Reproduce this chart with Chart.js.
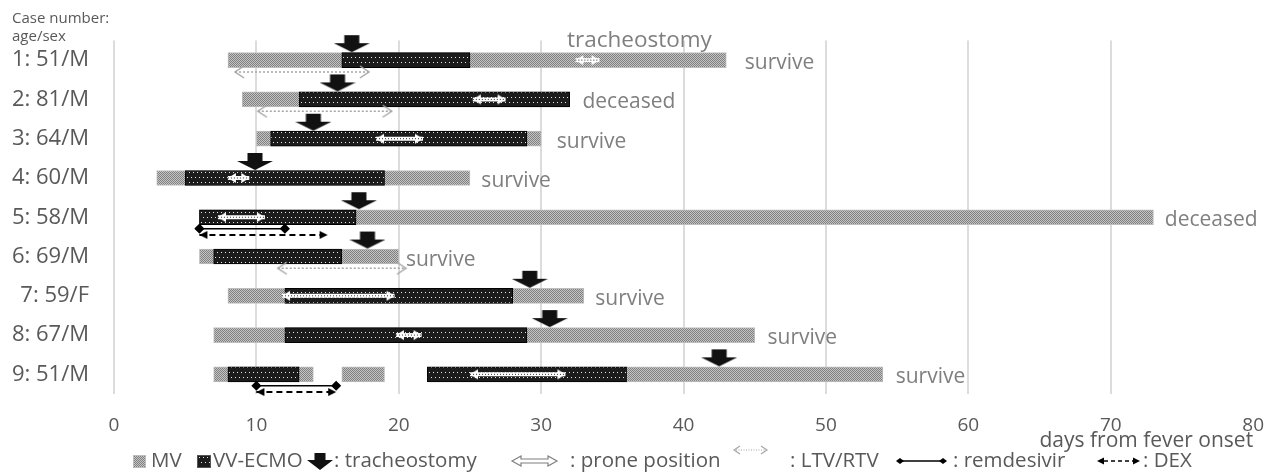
<!DOCTYPE html>
<html>
<head>
<meta charset="utf-8">
<script src="https://cdn.jsdelivr.net/npm/chart.js@4.4.0/dist/chart.umd.min.js"></script>
<style>
  html, body { margin: 0; background: #fff; }
</style>
</head>
<body>
<canvas id="caseChart" width="1284" height="474"></canvas>
<script>
// case rows (top to bottom)
const cases = ['1: 51/M', '2: 81/M', '3: 64/M', '4: 60/M', '5: 58/M', '6: 69/M', '7: 59/F', '8: 67/M', '9: 51/M'];
// days from fever onset, [start, end]
const mvDays = [[8, 43], [9, 32], [10, 30], [3, 25], [6, 73], [6, 20], [8, 33], [7, 45], [7, 14]];
const mvDays2 = [null, null, null, null, null, null, null, null, [16, 19]];
const mvDays3 = [null, null, null, null, null, null, null, null, [36, 54]];
const ecmoDays = [[16, 25], [13, 32], [11, 29], [5, 19], [6, 17], [7, 16], [12, 28], [12, 29], [8, 13]];
const ecmoDays2 = [null, null, null, null, null, null, null, null, [22, 36]];
const tracheostomyDay = [16.7, 15.7, 14, 9.9, 17.2, 17.8, 29.2, 30.6, 42.5];
const proneDays = [[32.4, 34.1], [25.2, 27.5], [18.4, 21.7], [8, 9.5], [7.3, 10.6], null, [11.8, 19.7], [19.8, 21.6], [25, 31.7]];
const ltvDays = [[8.5, 17.9], [10.1, 19.5], null, null, null, [11.5, 20.5], null, null, null];
const remdesivirDays = [null, null, null, null, [6, 12], null, null, null, [10, 15.6]];
const dexDays = [null, null, null, null, [6, 15], null, null, null, [10, 15.6]];
const outcome = ['survive', 'deceased', 'survive', 'survive', 'deceased', 'survive', 'survive', 'survive', 'survive'];
const outcomeAt = [44.3, 32.9, 31.1, 25.8, 73.8, 20.5, 33.8, 45.9, 54.9];
const strayLabel = 'tracheostomy';
const strayAt = 36.9;
const xTicks = [0, 10, 20, 30, 40, 50, 60, 70, 80];

const FONT = '"Open Sans", sans-serif';
const TEXT = '#595959';
const LABEL = '#7f7f7f';

function makePattern(w, h, bg, dots, dot) {
	const c = document.createElement('canvas');
	c.width = w; c.height = h;
	const g = c.getContext('2d');
	g.fillStyle = bg;
	g.fillRect(0, 0, w, h);
	g.fillStyle = dot;
	dots.forEach(function (p) { g.fillRect(p[0], p[1], 1, 1); });
	return g.createPattern(c, 'repeat');
}
const mvFill = makePattern(2, 2, '#c4c4c4', [[0, 0], [1, 1]], '#808080');
const ecmoFill = makePattern(8, 10, '#1c1c1c', [[1, 2], [5, 2], [3, 7], [7, 7]], '#e6e6e6');

// tracheostomy marker, image centre = row centre, arrow sits above the bar
function arrowImage() {
	const c = document.createElement('canvas');
	c.width = 36; c.height = 52;
	const g = c.getContext('2d');
	g.fillStyle = '#111';
	g.fillRect(10.5, 1, 15, 9);
	g.beginPath();
	g.moveTo(0, 9); g.lineTo(36, 9); g.lineTo(18, 18);
	g.closePath(); g.fill();
	return c;
}

// arrow heads, tip in the image centre
function headImage(kind, flip) {
	const c = document.createElement('canvas');
	c.width = 24; c.height = 16;
	const g = c.getContext('2d');
	g.translate(12, 8);
	if (flip) g.scale(-1, 1);
	if (kind === 'prone') {
		g.fillStyle = '#fff';
		g.beginPath(); g.moveTo(0, 0); g.lineTo(-8, -5); g.lineTo(-8, 5); g.closePath(); g.fill();
	} else if (kind === 'ltv') {
		g.strokeStyle = '#a6a6a6'; g.lineWidth = 1.5;
		g.beginPath(); g.moveTo(-9, -6); g.lineTo(0, 0); g.lineTo(-9, 6); g.stroke();
	} else {
		g.fillStyle = '#000';
		g.beginPath(); g.moveTo(0, 0); g.lineTo(-8, -4); g.lineTo(-8, 4); g.closePath(); g.fill();
	}
	return c;
}

function barSet(label, data, fill, border, order) {
	return {
		type: 'bar', label: label, data: data,
		backgroundColor: fill, borderColor: border, borderWidth: 1, borderSkipped: false,
		barThickness: 15, grouped: false, order: order, xAxisID: 'x', yAxisID: 'y'
	};
}

function rangeSets(ranges, off, style) {
	return ranges.map(function (r, i) {
		if (!r) return null;
		return Object.assign({
			type: 'line', indexAxis: 'x', xAxisID: 'x', yAxisID: 'yv', clip: false, order: 1,
			fill: false, tension: 0, pointRadius: 5,
			data: [{ x: r[0], y: i + 1 + off }, { x: r[1], y: i + 1 + off }]
		}, style);
	}).filter(Boolean);
}

let datasets = [
	barSet('MV', mvDays, mvFill, '#bdbdbd', 6),
	barSet('MV', mvDays2, mvFill, '#bdbdbd', 6),
	barSet('MV', mvDays3, mvFill, '#bdbdbd', 6),
	barSet('VV-ECMO', ecmoDays, ecmoFill, '#000', 5),
	barSet('VV-ECMO', ecmoDays2, ecmoFill, '#000', 5)
];
datasets = datasets.concat(
	rangeSets(proneDays, 0, {
		borderColor: '#fff', borderWidth: 4,
		pointStyle: [headImage('prone', true), headImage('prone', false)]
	}),
	rangeSets(proneDays, 0, {
		borderColor: '#333', borderWidth: 1, borderDash: [1, 2], pointRadius: 0, order: 0
	}),
	rangeSets(ltvDays, 0.3, {
		borderColor: '#a6a6a6', borderWidth: 1.5, borderDash: [2, 2],
		pointStyle: [headImage('ltv', true), headImage('ltv', false)]
	}),
	rangeSets(remdesivirDays, 0.29, {
		borderColor: '#000', borderWidth: 1.5, pointStyle: 'rectRot', pointRadius: 4,
		pointBackgroundColor: '#000', pointBorderColor: '#000'
	}),
	rangeSets(dexDays, 0.45, {
		borderColor: '#000', borderWidth: 2, borderDash: [6, 4],
		pointStyle: [headImage('dex', true), headImage('dex', false)]
	})
);
datasets.push({
	type: 'line', label: 'tracheostomy', indexAxis: 'x', xAxisID: 'x', yAxisID: 'yv',
	showLine: false, clip: false, order: 0, pointRadius: 5,
	pointStyle: arrowImage(),
	data: tracheostomyDay.map(function (d, i) { return { x: d, y: i + 1 }; })
});

// outcome labels next to the bars
const annotate = {
	id: 'annotate',
	afterDatasetsDraw(chart) {
		const ctx = chart.ctx, x = chart.scales.x, yv = chart.scales.yv;
		ctx.save();
		ctx.fillStyle = LABEL;
		ctx.textBaseline = 'middle';
		ctx.textAlign = 'left';
		ctx.font = '21px ' + FONT;
		outcome.forEach(function (t, i) {
			ctx.fillText(t, x.getPixelForValue(outcomeAt[i]), yv.getPixelForValue(i + 1) + 3);
		});
		ctx.font = '22.5px ' + FONT;
		ctx.textAlign = 'center';
		ctx.fillText(strayLabel, x.getPixelForValue(strayAt), yv.getPixelForValue(1) - 20);
		ctx.restore();
	}
};

// legend row under the axis
const legendRow = {
	id: 'legendRow',
	afterDraw(chart) {
		const g = chart.ctx;
		const y = 461;
		g.save();
		g.font = '20.5px ' + FONT;
		g.fillStyle = TEXT;
		g.textBaseline = 'middle';
		g.textAlign = 'left';

		// MV
		g.fillStyle = mvFill; g.fillRect(133, 455, 13, 13);
		g.strokeStyle = '#bdbdbd'; g.lineWidth = 1; g.strokeRect(133.5, 455.5, 12, 12);
		g.fillStyle = TEXT; g.fillText('MV', 151, y);
		// VV-ECMO
		g.fillStyle = ecmoFill; g.fillRect(197, 455, 14, 13);
		g.strokeStyle = '#555'; g.strokeRect(197.5, 455.5, 13, 12);
		g.fillStyle = TEXT; g.fillText('VV-ECMO', 213, y);
		// tracheostomy
		g.fillStyle = '#111';
		g.fillRect(314.5, 453, 11, 8);
		g.beginPath(); g.moveTo(307, 460); g.lineTo(333, 460); g.lineTo(320, 470); g.closePath(); g.fill();
		g.fillStyle = TEXT; g.fillText(': tracheostomy', 334, y);
		// prone position
		g.beginPath();
		g.moveTo(512, y); g.lineTo(521, y - 5); g.lineTo(521, y - 2); g.lineTo(548, y - 2); g.lineTo(548, y - 5);
		g.lineTo(557, y); g.lineTo(548, y + 5); g.lineTo(548, y + 2); g.lineTo(521, y + 2); g.lineTo(521, y + 5);
		g.closePath();
		g.fillStyle = '#fff'; g.fill();
		g.strokeStyle = '#7f7f7f'; g.lineWidth = 1.2; g.stroke();
		g.fillStyle = TEXT; g.fillText(': prone position', 570, y);
		// LTV/RTV
		g.strokeStyle = '#a6a6a6'; g.lineWidth = 1.2;
		g.beginPath(); g.moveTo(740, 446); g.lineTo(734, 450); g.lineTo(740, 454); g.stroke();
		g.beginPath(); g.moveTo(761, 446); g.lineTo(767, 450); g.lineTo(761, 454); g.stroke();
		g.setLineDash([1, 1.5]);
		g.beginPath(); g.moveTo(736, 450); g.lineTo(765, 450); g.stroke();
		g.setLineDash([]);
		g.fillStyle = TEXT; g.fillText(': LTV/RTV', 790, y);
		// remdesivir
		g.strokeStyle = '#000'; g.lineWidth = 1.5;
		g.beginPath(); g.moveTo(900, y); g.lineTo(943, y); g.stroke();
		g.fillStyle = '#000';
		[900, 943].forEach(function (cx) {
			g.beginPath(); g.moveTo(cx - 4, y); g.lineTo(cx, y - 3); g.lineTo(cx + 4, y); g.lineTo(cx, y + 3); g.closePath(); g.fill();
		});
		g.fillStyle = TEXT; g.fillText(': remdesivir', 953, y);
		// DEX
		g.fillStyle = '#000';
		g.beginPath(); g.moveTo(1097, y); g.lineTo(1104, y - 3.5); g.lineTo(1104, y + 3.5); g.closePath(); g.fill();
		g.beginPath(); g.moveTo(1140, y); g.lineTo(1133, y - 3.5); g.lineTo(1133, y + 3.5); g.closePath(); g.fill();
		g.strokeStyle = '#000'; g.lineWidth = 1.5; g.setLineDash([4, 3]);
		g.beginPath(); g.moveTo(1104, y); g.lineTo(1133, y); g.stroke();
		g.setLineDash([]);
		g.fillStyle = TEXT; g.fillText(': DEX', 1143, y);
		g.restore();
	}
};

Chart.defaults.font.family = FONT;
Chart.defaults.color = TEXT;

let chart = new Chart('caseChart', {
	type: 'bar',
	data: { labels: cases, datasets: datasets },
	options: {
		indexAxis: 'y',
		responsive: false,
		animation: false,
		events: [],
		layout: { padding: { left: 12, right: 27, top: 0, bottom: 20 } },
		plugins: {
			legend: { display: false },
			tooltip: { enabled: false },
			title: {
				display: true, align: 'start',
				text: ['Case number:', 'age/sex'],
				color: TEXT,
				font: { size: 15, weight: 'normal', lineHeight: 1.25 },
				padding: { top: 9, bottom: -6 }
			}
		},
		scales: {
			x: {
				type: 'linear', position: 'bottom', min: 0, max: 80, offset: false,
				afterBuildTicks: function (s) { s.ticks = xTicks.map(function (v) { return { value: v }; }); },
				ticks: { color: TEXT, font: { size: 19 }, padding: 20, maxRotation: 0 },
				grid: {
					drawTicks: false, lineWidth: 2,
					color: function (c) { return c.tick && c.tick.value === 80 ? 'rgba(0,0,0,0)' : '#dcdcdc'; }
				},
				border: { display: false },
				title: {
					display: true, align: 'end', text: 'days from fever onset',
					color: TEXT, font: { size: 21 }, padding: { top: -28, bottom: 0 }
				}
			},
			y: {
				type: 'category', position: 'left', labels: cases, offset: true,
				afterFit: function (s) { s.width = 102; },
				ticks: { color: TEXT, font: { size: 22 }, padding: 25 },
				grid: { display: false, drawTicks: false },
				border: { display: false }
			},
			yv: {
				type: 'linear', axis: 'y', position: 'left', offset: false,
				min: 0.5, max: 9.5, reverse: true,
				afterFit: function (s) { s.width = 0; },
				ticks: { display: false },
				grid: { display: false, drawTicks: false, offset: false },
				border: { display: false }
			}
		}
	},
	plugins: [annotate, legendRow]
});
</script>
</body>
</html>
